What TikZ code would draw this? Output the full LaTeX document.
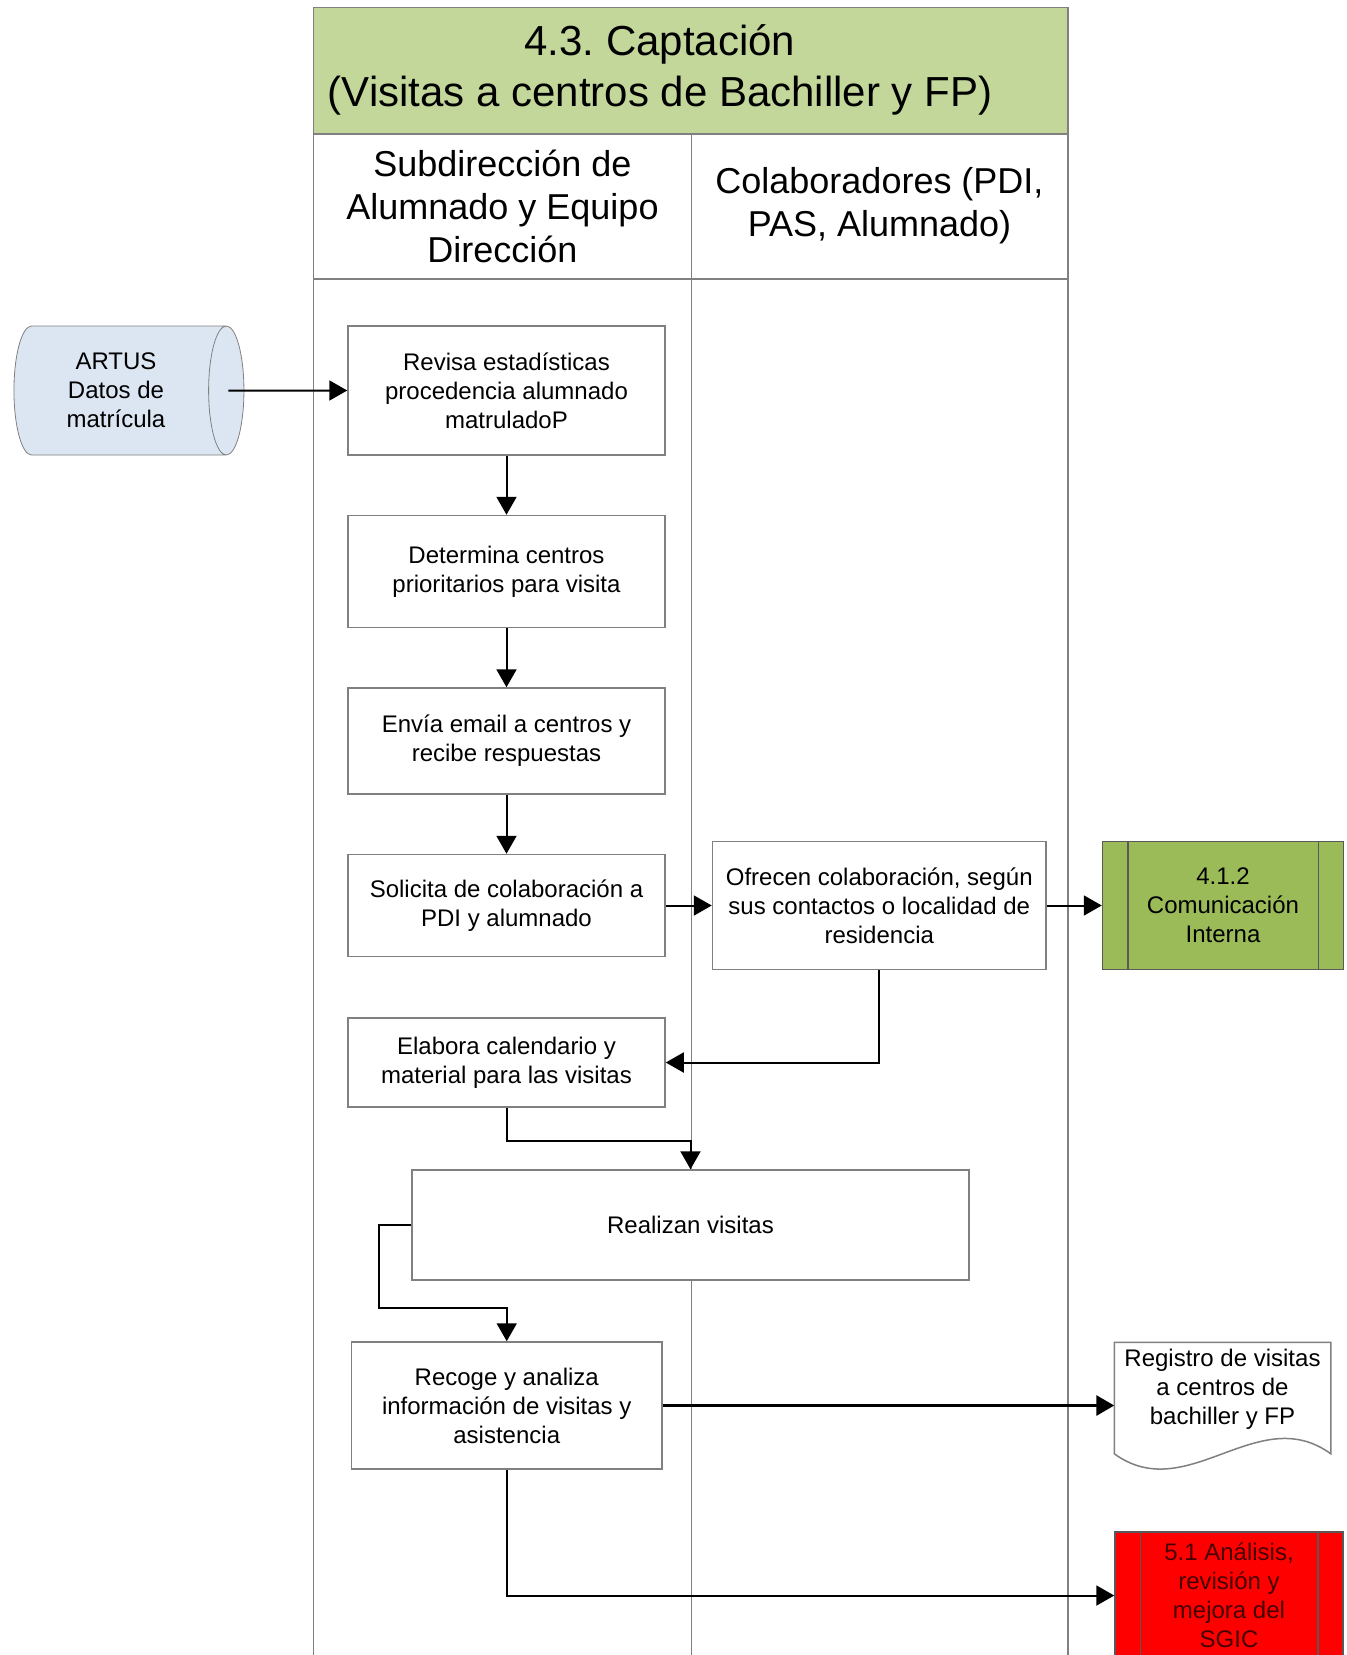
\documentclass[tikz,border=0pt]{standalone}
\usepackage{fontspec}
\setmainfont{Liberation Sans}
\usepackage{tikz}
\usetikzlibrary{shapes.geometric,arrows.meta,positioning,calc}

\definecolor{titlegreen}{RGB}{196,215,155}
\definecolor{procgreen}{RGB}{155,187,89}
\definecolor{storeblue}{RGB}{220,230,242}
\definecolor{edgegray}{RGB}{128,128,128}
\definecolor{sgicred}{RGB}{255,0,0}
\definecolor{darkred}{RGB}{70,0,0}

\frenchspacing

\begin{document}
\begin{tikzpicture}[
        x=0.5pt, y=-0.5pt,
        % Styles
        procbox/.style={
            rectangle,
            draw=edgegray,
            fill=white,
            line width=0.75pt,
            minimum width=158.5pt,
            align=center,
            inner sep=2pt,
            font=\fontsize{12}{14.5}\selectfont
        },
        extbox/.style={
            procbox,
            draw=black!65,
            minimum width=120.5pt,
            minimum height=64pt
        },
        datastore/.style={
            cylinder,
            draw=edgegray,
            fill=storeblue,
            aspect=0.4,
            minimum width=64.5pt,
            minimum height=115pt,
            align=center,
            font=\fontsize{12}{14.5}\selectfont
        },
        lanetext/.style={
            align=center,
            font=\fontsize{18}{21.5}\selectfont
        },
        lane/.style={
            draw=edgegray,
            line width=0.75pt
        },
        arrow/.style={
            -{Triangle[length=9pt,width=10pt]},
            line width=1pt
        },
        thickarrow/.style={
            arrow,
            line width=1.6pt
        }
    ]
    \clip (0,0) rectangle (1347,1655);
    \fill[white] (0,0) rectangle (1347,1655);

    % Pool, title and lanes
    \filldraw[lane, fill=titlegreen] (313.5,7.5) rectangle (1068,134);
    \draw[lane] (313.5,134) -- (313.5,1680);
    \draw[lane] (1068,134) -- (1068,1680);
    \draw[lane] (691.5,134) -- (691.5,1680);
    \draw[lane] (313.5,279) -- (1068,279);
    \node[align=center, font=\fontsize{21}{25.3}\selectfont] (title) at (660,70)
        {4.3. Captación\\(Visitas a centros de Bachiller y FP)};
    \node[lanetext] (lane1) at (502.5,206) {Subdirección de\\Alumnado y Equipo\\Dirección};
    \node[lanetext] (lane2) at (879.5,206) {Colaboradores (PDI,\\PAS, Alumnado)};

    % Data source
    \node[datastore] (artus) at (116,390.5) {ARTUS\\Datos de\\matrícula};

    % Process steps
    \node[procbox, minimum height=64.5pt] (revisa) at (506.5,390.5)
        {Revisa estadísticas\\procedencia alumnado\\matruladoP};
    \node[procbox, minimum height=56pt, below=29.5pt of revisa] (determina)
        {Determina centros\\prioritarios para visita};
    \node[procbox, minimum height=53pt, below=29.5pt of determina] (envia)
        {Envía email a centros y\\recibe respuestas};
    \node[procbox, minimum height=51pt, below=29.5pt of envia] (solicita)
        {Solicita de colaboración a\\PDI y alumnado};
    \node[procbox, minimum width=166.75pt, minimum height=64pt, right=23pt of solicita] (ofrecen)
        {Ofrecen colaboración, según\\sus contactos o localidad de\\residencia};
    \node[extbox, fill=procgreen, right=27.5pt of ofrecen] (comint)
        {4.1.2\\Comunicación\\Interna};
    \node[procbox, minimum height=44.5pt, below=30pt of solicita] (elabora)
        {Elabora calendario y\\material para las visitas};
    \node[procbox, minimum width=278.5pt, minimum height=55pt] (realizan) at (690.5,1225)
        {Realizan visitas};
    \node[procbox, minimum width=155.25pt, minimum height=63.5pt] (recoge) at (506.75,1405.5)
        {Recoge y analiza\\información de visitas y\\asistencia};

    % Document
    \node[procbox, draw=none, fill=none, minimum width=107.5pt, minimum height=46pt] (registro)
        at (1222.5,1389) {};
    \filldraw[lane, fill=white] ($(registro.south west)+(0,18)$) -- (registro.north west)
        -- (registro.north east) -- ($(registro.south east)+(0,18)$)
        .. controls ($(registro.south east)+(-73,-35)$) and ($(registro.south west)+(73,71)$)
        .. ($(registro.south west)+(0,18)$);
    \node[procbox, draw=none, fill=none] (registrotext)
        at (registro) {Registro de visitas\\a centros de\\bachiller y FP};

    % Review process
    \node[extbox, fill=sgicred, text=darkred, minimum width=114pt, minimum height=63.5pt] (sgic)
        at (1229,1595.5) {5.1 Análisis,\\revisión y\\mejora del\\SGIC};

    % Side bars of predefined processes
    \foreach \b in {comint,sgic} {
        \draw[black!65, line width=0.75pt] ($(\b.north west)+(26,0)$) -- ($(\b.south west)+(26,0)$);
        \draw[black!65, line width=0.75pt] ($(\b.north east)+(-26,0)$) -- ($(\b.south east)+(-26,0)$);
    }

    % Connectors
    \draw[arrow] ([xshift=-8pt]artus.east) -- (revisa.west);
    \draw[arrow] (revisa) -- (determina);
    \draw[arrow] (determina) -- (envia);
    \draw[arrow] (envia) -- (solicita);
    \draw[arrow] (solicita) -- (ofrecen);
    \draw[arrow] (ofrecen) -- (comint);
    \draw[arrow] (ofrecen.south) |- (elabora.east);
    \draw[arrow] (elabora.south) -- ++(0,33) -| (realizan.north);
    \draw[arrow] (realizan.west) -- ++(-32,0) |- ([yshift=16.5pt]recoge.north) -- (recoge.north);
    \draw[thickarrow] (recoge.east) -- (recoge.east -| registro.west);
    \draw[arrow] (recoge.south) |- (sgic.west);

\end{tikzpicture}
\end{document}
